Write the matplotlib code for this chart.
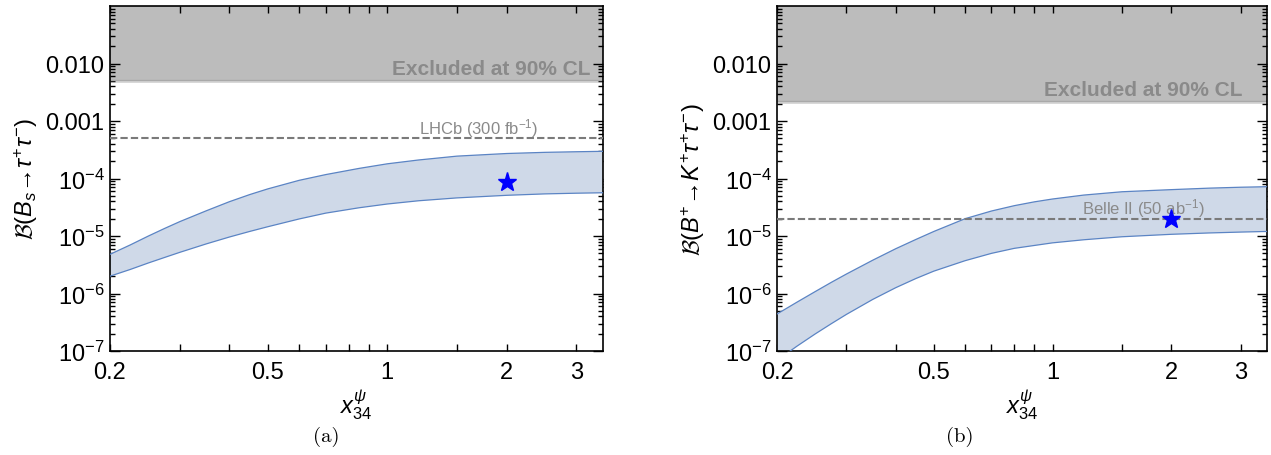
import numpy as np
import matplotlib
matplotlib.use('Agg')
import matplotlib.pyplot as plt
import matplotlib.transforms as mtransforms
from matplotlib.ticker import FixedLocator, LogLocator, NullFormatter

plt.rcParams['font.family'] = ['Liberation Sans', 'DejaVu Sans']
plt.rcParams['mathtext.fontset'] = 'custom'
plt.rcParams['mathtext.rm'] = 'Liberation Sans'
plt.rcParams['mathtext.it'] = 'Liberation Sans:italic'
plt.rcParams['mathtext.bf'] = 'Liberation Sans:bold'
plt.rcParams['mathtext.cal'] = 'cmsy10'

# panel (a): Bs -> tau tau
xa_up = [0.2, 0.225, 0.25, 0.275, 0.3, 0.35, 0.4, 0.45, 0.5, 0.6, 0.7, 0.85, 1.0, 1.2, 1.5, 2.0, 2.5, 3.0, 3.5]
ya_up = [4.8e-6, 7.0e-6, 1.0e-5, 1.36e-5, 1.78e-5, 2.75e-5, 3.95e-5, 5.25e-5, 6.6e-5, 9.3e-5,
         1.17e-4, 1.5e-4, 1.8e-4, 2.1e-4, 2.45e-4, 2.72e-4, 2.85e-4, 2.92e-4, 2.97e-4]
xa_lo = [0.2, 0.225, 0.25, 0.275, 0.3, 0.35, 0.4, 0.45, 0.5, 0.6, 0.7, 0.85, 1.0, 1.2, 1.5, 2.0, 2.5, 3.0, 3.5]
ya_lo = [2.0e-6, 2.62e-6, 3.4e-6, 4.25e-6, 5.2e-6, 7.3e-6, 9.6e-6, 1.2e-5, 1.45e-5, 1.98e-5,
         2.5e-5, 3.1e-5, 3.6e-5, 4.1e-5, 4.6e-5, 5.1e-5, 5.4e-5, 5.55e-5, 5.65e-5]
star_a = (2.0, 8.6e-5)
limit_a = 5.2e-3
proj_a = 5.0e-4

# panel (b): B+ -> K+ tau tau
xb_up = [0.2, 0.225, 0.25, 0.275, 0.3, 0.35, 0.4, 0.45, 0.5, 0.6, 0.7, 0.8, 0.9, 1.0, 1.2, 1.5, 2.0, 2.5, 3.0, 3.5]
yb_up = [4.4e-7, 7.1e-7, 1.08e-6, 1.57e-6, 2.18e-6, 3.8e-6, 6.0e-6, 8.7e-6, 1.2e-5, 2.0e-5,
         2.72e-5, 3.37e-5, 3.93e-5, 4.4e-5, 5.15e-5, 5.88e-5, 6.4e-5, 6.8e-5, 7.05e-5, 7.2e-5]
xb_lo = [0.2, 0.216, 0.225, 0.25, 0.275, 0.3, 0.35, 0.4, 0.45, 0.5, 0.6, 0.7, 0.8, 1.0, 1.2, 1.5, 2.0, 2.5, 3.0, 3.5]
yb_lo = [6.9e-8, 1.0e-7, 1.22e-7, 1.98e-7, 3.0e-7, 4.33e-7, 7.9e-7, 1.26e-6, 1.82e-6, 2.45e-6,
         3.72e-6, 4.99e-6, 6.1e-6, 7.6e-6, 8.6e-6, 9.7e-6, 1.07e-5, 1.13e-5, 1.17e-5, 1.2e-5]
star_b = (2.0, 2.0e-5)
limit_b = 2.25e-3
proj_b = 2.0e-5

xticks = [0.2, 0.5, 1, 2, 3]
xtick_labels = ['0.2', '0.5', '1', '2', '3']
xminor = [0.3, 0.4, 0.6, 0.7, 0.8, 0.9, 1.5]
yticks = [1e-7, 1e-6, 1e-5, 1e-4, 1e-3, 1e-2]
ytick_labels = ['$10^{-7}$', '$10^{-6}$', '$10^{-5}$', '$10^{-4}$', '0.001', '0.010']

fill_c = '#cfd9e8'
edge_c = '#5b84c4'
grey_txt = '#8a8a8a'

fig = plt.figure(figsize=(12.71, 4.56), dpi=100)
ax1 = fig.add_axes([110/1271, 1-352/456, 493/1271, 345/456])
ax2 = fig.add_axes([777/1271, 1-352/456, 490/1271, 345/456])


def panel(ax, xu, yu, xl, yl, star, limit, proj, proj_txt, ylab, exc_x):
    ax.set_xscale('log')
    ax.set_yscale('log')
    ax.set_xlim(0.2, 3.5)
    ax.set_ylim(1e-7, 0.1)

    # excluded region
    ax.axhline(limit, color='#d6d6d6', lw=3.5, zorder=1)
    ax.axhspan(limit, 0.1, color='#bcbcbc', lw=0, zorder=1.5)
    ax.axhline(limit, color='#a9a9a9', lw=1.0, zorder=1.6)
    tr = mtransforms.blended_transform_factory(ax.transAxes, ax.transData)
    ax.text(exc_x, limit*1.55, 'Excluded at 90% CL', transform=tr, ha='right', va='center',
            fontsize=15, fontweight='bold', color=grey_txt, zorder=2)

    # band
    px = np.concatenate([xu, xl[::-1]])
    py = np.concatenate([yu, yl[::-1]])
    ax.fill(px, py, color=fill_c, lw=0, zorder=2)
    ax.plot(xu, yu, color=edge_c, lw=0.9, zorder=3)
    ax.plot(xl, yl, color=edge_c, lw=0.9, zorder=3)

    # projection
    ax.axhline(proj, color='#7a7a7a', lw=1.5, ls=(0, (3.5, 1.5)), zorder=4)
    ax.text(1.7, proj*1.55, proj_txt, ha='center', va='center', fontsize=12, color=grey_txt, zorder=4)

    ax.plot(star[0], star[1], marker='*', color='#0000ff', ms=14, mec='#0000ff', zorder=5)

    ax.xaxis.set_major_locator(FixedLocator(xticks))
    ax.set_xticklabels(xtick_labels)
    ax.xaxis.set_minor_locator(FixedLocator(xminor))
    ax.xaxis.set_minor_formatter(NullFormatter())
    ax.yaxis.set_major_locator(FixedLocator(yticks))
    ax.set_yticklabels(ytick_labels)
    ax.yaxis.set_minor_locator(LogLocator(base=10, subs=np.arange(2, 10), numticks=20))
    ax.yaxis.set_minor_formatter(NullFormatter())

    ax.tick_params(which='both', direction='in', top=True, right=True, labelsize=17, width=1.0, pad=4)
    ax.tick_params(axis='x', which='both', length=5, pad=7)
    ax.tick_params(axis='y', which='major', length=7)
    ax.tick_params(axis='y', which='minor', length=3.5)
    for s in ax.spines.values():
        s.set_linewidth(1.2)

    ax.set_xlabel(r'$x_{34}^{\psi}$', fontsize=17, labelpad=4)
    ax.set_ylabel(ylab, fontsize=17, labelpad=4)


panel(ax1, np.array(xa_up), np.array(ya_up), np.array(xa_lo), np.array(ya_lo), star_a, limit_a, proj_a,
      'LHCb (300 fb$^{-1}$)', r'$\mathcal{B}(B_s\!\to\!\tau^{+}\tau^{-})$', 0.975)
panel(ax2, np.array(xb_up), np.array(yb_up), np.array(xb_lo), np.array(yb_lo), star_b, limit_b, proj_b,
      'Belle II (50 ab$^{-1}$)', r'$\mathcal{B}(B^{+}\!\to\!K^{+}\tau^{+}\tau^{-})$', 0.95)

fig.text(326/1271, 1-437/456, '(a)', ha='center', va='center', fontsize=15, family='cmr10')
fig.text(960/1271, 1-437/456, '(b)', ha='center', va='center', fontsize=15, family='cmr10')

fig.savefig('out.png', dpi=100)
